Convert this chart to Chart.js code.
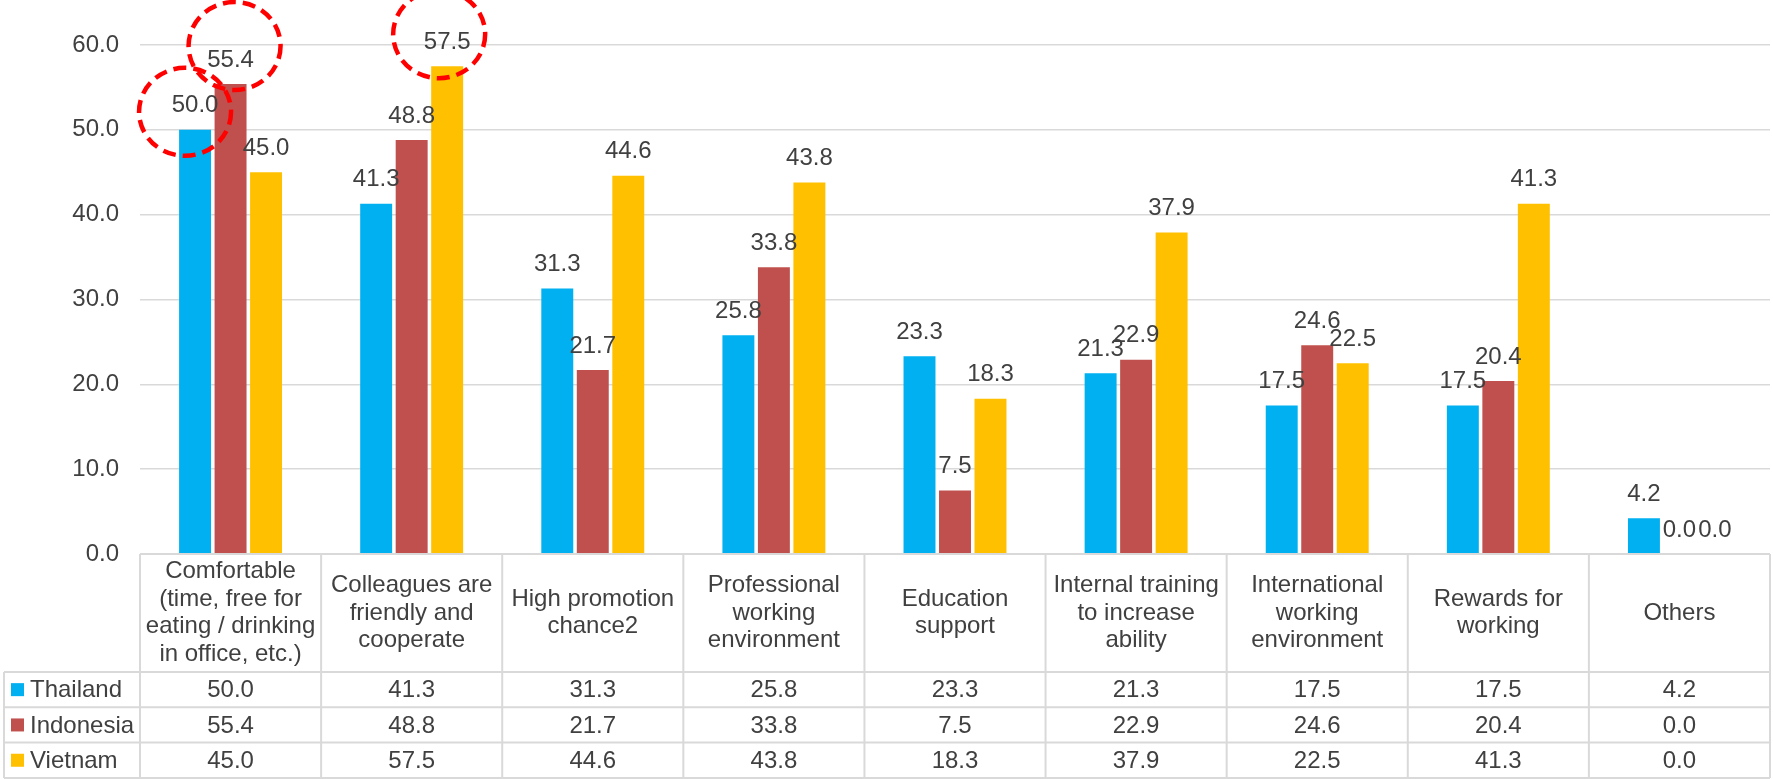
<!DOCTYPE html>
<html>
<head>
<meta charset="utf-8">
<script src="https://cdn.jsdelivr.net/npm/chart.js@4.4.0/dist/chart.umd.min.js"></script>
<style>
  html, body { margin: 0; padding: 0; background: #ffffff; }
  #wrap { width: 1773px; height: 779px; position: relative; }
</style>
</head>
<body>
<div id="wrap"><canvas id="myChart"></canvas></div>
<script>
// categories (header lines of the table)
const categories = [
  ["Comfortable", "(time, free for", "eating / drinking", "in office, etc.)"],
  ["Colleagues are", "friendly and", "cooperate"],
  ["High promotion", "chance2"],
  ["Professional", "working", "environment"],
  ["Education", "support"],
  ["Internal training", "to increase", "ability"],
  ["International", "working", "environment"],
  ["Rewards for", "working"],
  ["Others"]
];
const seriesNames = ["Thailand", "Indonesia", "Vietnam"];
const thailand = [50.0, 41.3, 31.3, 25.8, 23.3, 21.3, 17.5, 17.5, 4.2];
const indonesia = [55.4, 48.8, 21.7, 33.8, 7.5, 22.9, 24.6, 20.4, 0.0];
const vietnam = [45.0, 57.5, 44.6, 43.8, 18.3, 37.9, 22.5, 41.3, 0.0];
const yTicks = [0, 10, 20, 30, 40, 50, 60];
// highlighted labels: [category, series]
const highlights = [[0, 0], [0, 1], [1, 2]];

const colors = ["#00B0F0", "#C0504D", "#FFC000"];
const textColor = "#404040";
const lineColor = "#d9d9d9";
const FONT = "'Liberation Sans', Arial, sans-serif";

// value labels above each bar
const valueLabels = {
  id: "valueLabels",
  afterDatasetsDraw(chart) {
    const ctx = chart.ctx;
    ctx.save();
    ctx.font = "24px " + FONT;
    ctx.fillStyle = textColor;
    ctx.textAlign = "center";
    ctx.textBaseline = "middle";
    chart.data.datasets.forEach(function (ds, i) {
      chart.getDatasetMeta(i).data.forEach(function (bar, j) {
        ctx.fillText(ds.data[j].toFixed(1), bar.x, bar.y - 24);
      });
    });
    ctx.restore();
  }
};

// red dashed circles round some labels
const circleMarks = {
  id: "circleMarks",
  afterDraw(chart) {
    const ctx = chart.ctx;
    const offs = [[-10, 6], [4, -14], [-8, -8]];
    ctx.save();
    ctx.strokeStyle = "#ff0000";
    ctx.lineWidth = 4.5;
    ctx.setLineDash([13, 7]);
    highlights.forEach(function (h, k) {
      const bar = chart.getDatasetMeta(h[1]).data[h[0]];
      const cx = bar.x + offs[k][0];
      const cy = bar.y - 24 + offs[k][1];
      ctx.beginPath();
      ctx.ellipse(cx, cy, 46, 44, 0, 0, Math.PI * 2);
      ctx.stroke();
    });
    ctx.restore();
  }
};

// data table under the plot
const dataTable = {
  id: "dataTable",
  afterDraw(chart) {
    const ctx = chart.ctx;
    const area = chart.chartArea;
    const xs = chart.scales.x;
    const top = area.bottom;
    const headH = 118;
    const rowH = 35.3;
    const leftX = 4;
    const n = categories.length;
    const colW = (area.right - area.left) / n;
    const bottom = top + headH + rowH * 3;

    ctx.save();
    ctx.strokeStyle = lineColor;
    ctx.lineWidth = 2;
    ctx.beginPath();
    // horizontal lines
    ctx.moveTo(area.left, top); ctx.lineTo(area.right, top);
    for (let r = 0; r <= 3; r++) {
      const y = top + headH + r * rowH;
      ctx.moveTo(leftX, y); ctx.lineTo(area.right, y);
    }
    // vertical lines
    for (let c = 0; c <= n; c++) {
      const x = area.left + c * colW;
      ctx.moveTo(x, top); ctx.lineTo(x, bottom);
    }
    ctx.moveTo(leftX, top + headH); ctx.lineTo(leftX, bottom);
    ctx.stroke();

    ctx.fillStyle = textColor;
    ctx.textAlign = "center";
    ctx.textBaseline = "middle";
    ctx.font = "24px " + FONT;
    const midHead = top + headH / 2;
    categories.forEach(function (lines, c) {
      const x = xs.getPixelForValue(c);
      const y0 = midHead - (lines.length - 1) * 27.7 / 2;
      lines.forEach(function (t, k) {
        ctx.fillText(t, x, y0 + k * 27.7);
      });
    });

    const rows = [thailand, indonesia, vietnam];
    rows.forEach(function (vals, r) {
      const y = top + headH + r * rowH + rowH / 2;
      ctx.fillStyle = colors[r];
      ctx.fillRect(11, y - 6.5, 13, 13);
      ctx.fillStyle = textColor;
      ctx.textAlign = "left";
      ctx.fillText(seriesNames[r], 30, y + 1);
      ctx.textAlign = "center";
      vals.forEach(function (v, c) {
        ctx.fillText(v.toFixed(1), xs.getPixelForValue(c), y + 1);
      });
    });
    ctx.restore();
  }
};

let ctx = document.getElementById("myChart").getContext("2d");
let myChart = new Chart(ctx, {
  type: "bar",
  data: {
    labels: categories,
    datasets: [
      { label: seriesNames[0], data: thailand, backgroundColor: colors[0] },
      { label: seriesNames[1], data: indonesia, backgroundColor: colors[1] },
      { label: seriesNames[2], data: vietnam, backgroundColor: colors[2] }
    ]
  },
  options: {
    responsive: true,
    maintainAspectRatio: false,
    animation: false,
    categoryPercentage: 0.588,
    barPercentage: 0.9,
    layout: { padding: { top: 45, right: 3, bottom: 225, left: 0 } },
    plugins: {
      legend: { display: false },
      tooltip: { enabled: false }
    },
    scales: {
      x: { display: false },
      y: {
        min: 0,
        max: 60,
        afterBuildTicks: function (scale) {
          scale.ticks = yTicks.map(function (v) { return { value: v }; });
        },
        afterFit: function (scale) { scale.width = 140; },
        border: { display: false },
        grid: { color: lineColor, lineWidth: 1.5, drawTicks: false },
        ticks: {
          padding: 21,
          color: textColor,
          font: { family: FONT, size: 24 },
          callback: function (v) { return v.toFixed(1); }
        }
      }
    }
  },
  plugins: [valueLabels, circleMarks, dataTable]
});
</script>
</body>
</html>
